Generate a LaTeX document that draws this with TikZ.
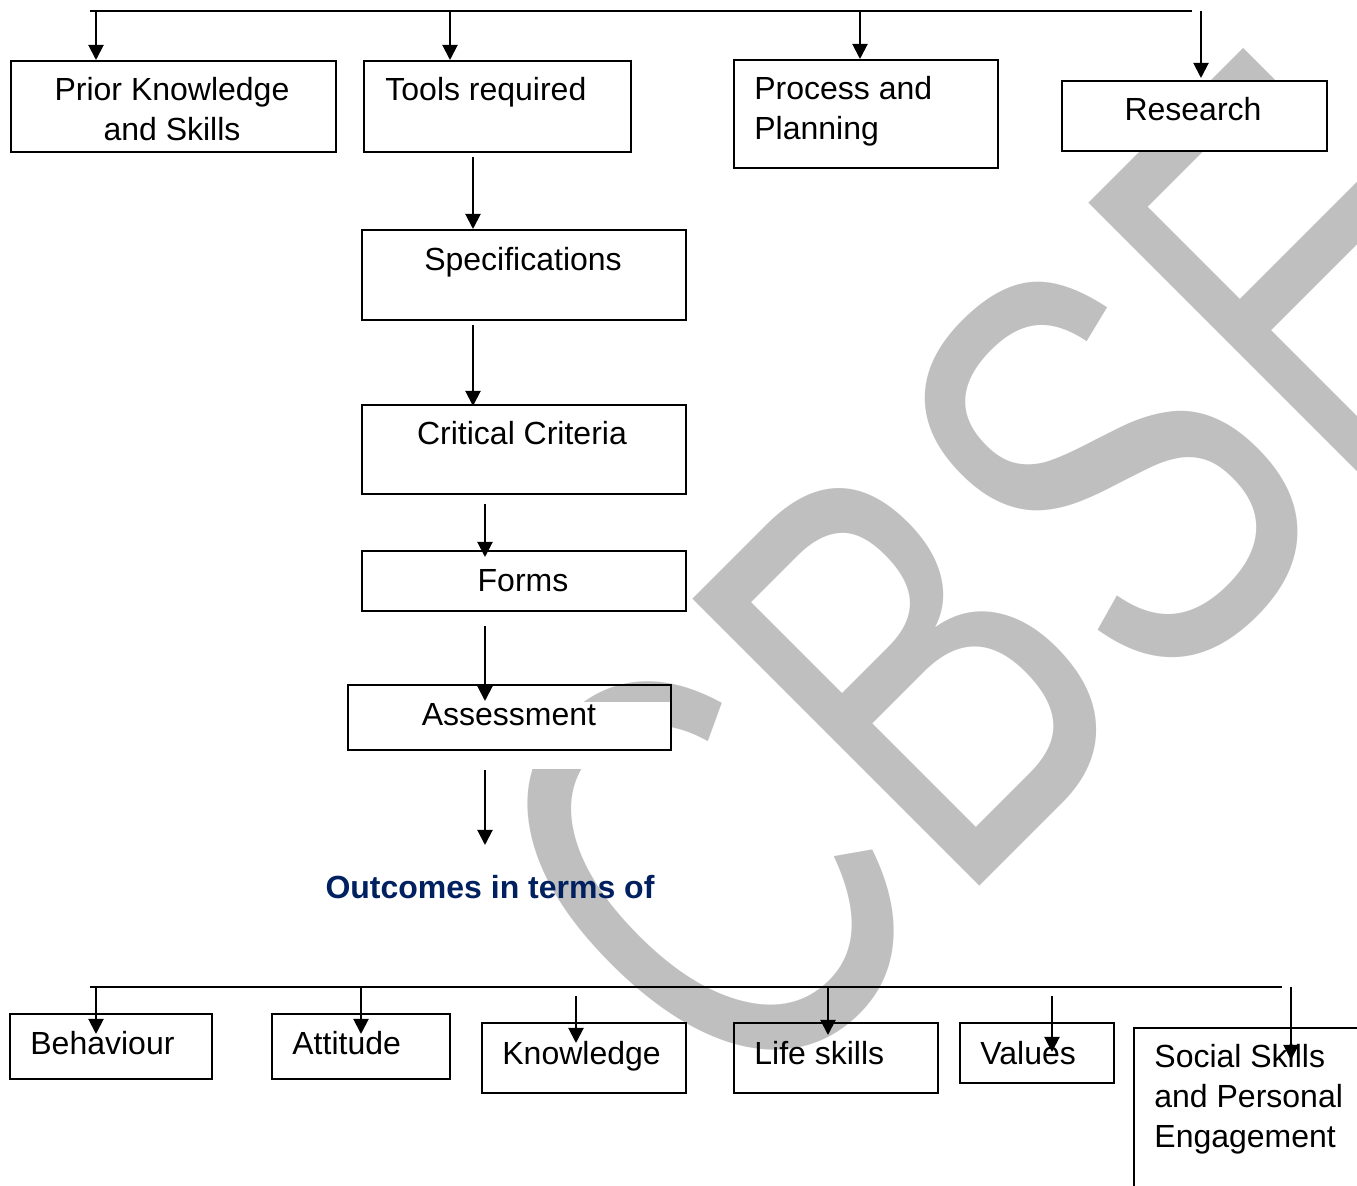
\documentclass[tikz,border=0pt]{standalone}
\usepackage{fontspec}
\setmainfont{Liberation Sans}
\usetikzlibrary{arrows.meta,calc}
\definecolor{wmgray}{HTML}{BFBFBF}
\definecolor{navyblue}{HTML}{002060}
\begin{document}
\begin{tikzpicture}[x=0.5pt,y=-0.5pt,
  box/.style={draw,line width=1pt,inner sep=0pt,anchor=north west},
  txt/.style={inner sep=0pt,font=\fontsize{16}{20}\selectfont},
  arr/.style={line width=1pt,-{Triangle[width=7.5pt,length=7.5pt]}},
  ln/.style={line width=1pt}]
\useasboundingbox (0,0) rectangle (1357,1186);
\clip (0,0) rectangle (1357,1186);
% watermark
\node[inner sep=0pt,anchor=base west,rotate=45,text=wmgray,
      font=\fontsize{295}{295}\selectfont] (wm) at (741.5,1124.5) {\scalebox{0.711}[1]{CBSE}};
\fill[white] (520,702) rectangle (671,769);
% boxes
\node[box,minimum width=162.5pt,minimum height=45.5pt] (prior) at (10,60) {};
\node[box,minimum width=133.5pt,minimum height=45.5pt] (tools) at (363,60) {};
\node[box,minimum width=132pt,minimum height=54pt] (proc) at (733,59) {};
\node[box,fill=white,minimum width=132.5pt,minimum height=35pt] (res) at (1061,80) {};
\node[box,minimum width=162pt,minimum height=45pt] (spec) at (361,229) {};
\node[box,minimum width=162pt,minimum height=44.5pt] (crit) at (361,404) {};
\node[box,minimum width=162pt,minimum height=30pt] (forms) at (361,550) {};
\node[box,minimum width=161.5pt,minimum height=32.5pt] (assess) at (347,684) {};
\node[box,minimum width=101pt,minimum height=32.5pt] (beh) at (9,1013) {};
\node[box,minimum width=89pt,minimum height=32.5pt] (att) at (271,1013) {};
\node[box,minimum width=102pt,minimum height=35pt] (know) at (481,1022) {};
\node[box,minimum width=102pt,minimum height=35pt] (life) at (733,1022) {};
\node[box,minimum width=77pt,minimum height=30pt] (val) at (959,1022) {};
\node[box,minimum width=140pt,minimum height=120pt] (soc) at (1133,1027) {};
% texts (multi-line nodes: base anchor = last line)
\node[txt,anchor=base,align=center] (priort) at (172,141) {Prior Knowledge\\and Skills};
\node[txt,anchor=base west] (toolst) at (385,101) {Tools required};
\node[txt,anchor=base west,align=left] (proct) at (754,140) {Process and\\Planning};
\node[txt,anchor=base] (rest) at (1193,121) {Research};
\node[txt,anchor=base] (spect) at (523,271) {Specifications};
\node[txt,anchor=base] (critt) at (522,445) {Critical Criteria};
\node[txt,anchor=base] (formst) at (523,592) {Forms};
\node[txt,anchor=base] (assesst) at (509,726) {Assessment};
\node[txt,anchor=base,text=navyblue,font=\fontsize{16}{20}\selectfont\bfseries] (out) at (490,899) {Outcomes in terms of};
\node[txt,anchor=base west] (beht) at (30,1055) {Behaviour};
\node[txt,anchor=base west] (attt) at (292,1055) {Attitude};
\node[txt,anchor=base west] (knowt) at (502,1065) {Knowledge};
\node[txt,anchor=base west] (lifet) at (754,1065) {Life skills};
\node[txt,anchor=base west] (valt) at (980,1065) {Values};
\node[txt,anchor=base west,align=left] (soct) at (1154,1148) {Social Skills\\and Personal\\Engagement};
% top connectors
\coordinate (T0) at (90,11);
\coordinate (T1) at (1192,11);
\draw[ln] (T0) -- (T1);
\coordinate (a1) at (96,11);
\coordinate (a2) at (450,11);
\coordinate (a3) at (860,11);
\coordinate (a4) at (1201,11);
\draw[arr] (a1) -- (a1 |- prior.north);
\draw[arr] (a2) -- (a2 |- tools.north);
\draw[arr] (a3) -- (a3 |- proc.north);
\draw[arr,shorten >=1pt] (a4) -- (a4 |- res.north);
% vertical chain
\coordinate (c1) at (473,0);
\coordinate (c2) at (485,0);
\draw[arr,shorten <=2pt] (tools.south -| c1) -- (spec.north -| c1);
\draw[arr,shorten <=2pt,shorten >=-1pt] (spec.south -| c1) -- (crit.north -| c1);
\draw[arr,shorten <=4.5pt,shorten >=-3.5pt] (crit.south -| c2) -- (forms.north -| c2);
\draw[arr,shorten <=7pt,shorten >=-8.5pt] (forms.south -| c2) -- (assess.north -| c2);
\coordinate (oend) at (485,845);
\draw[arr,shorten <=9.5pt] (assess.south -| c2) -- (oend);
% bottom connectors
\coordinate (B0) at (90,987);
\coordinate (B1) at (1282,987);
\draw[ln] (B0) -- (B1);
\coordinate (d1) at (96,987);
\coordinate (d2) at (361,987);
\coordinate (d3) at (576,996);
\coordinate (d4) at (828,987);
\coordinate (d5) at (1052,996);
\coordinate (d6) at (1291,987);
\draw[arr,shorten >=-10.5pt] (d1) -- (d1 |- beh.north);
\draw[arr,shorten >=-10.5pt] (d2) -- (d2 |- att.north);
\draw[arr,shorten >=-10.5pt] (d3) -- (d3 |- know.north);
\draw[arr,shorten >=-6.5pt] (d4) -- (d4 |- life.north);
\draw[arr,shorten >=-15pt] (d5) -- (d5 |- val.north);
\draw[arr,shorten >=-16.5pt] (d6) -- (d6 |- soc.north);
\end{tikzpicture}
\end{document}
